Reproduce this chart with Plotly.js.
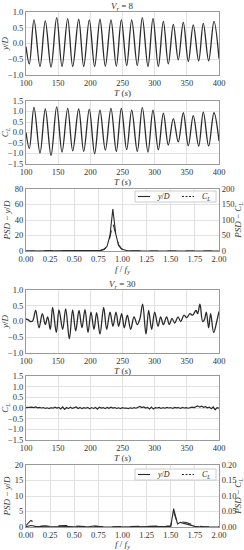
<!DOCTYPE html>
<html><head><meta charset="utf-8">
<script src="https://cdn.plot.ly/plotly-3.0.1.min.js"></script>
<style>html,body{margin:0;padding:0;background:#fff}#c{width:244px;height:550px}</style>
</head><body><div id="c"></div>
<script>
// ---- Data ----
// Vr = 8, y/D (extrema)
const t8_y = [100,105.2,112.4,121.8,130.0,138.9,147.7,156.0,164.8,172.6,181.9,189.7,198.4,206.7,215.0,223.3,232.1,240.4,248.2,256.5,264.3,273.0,280.8,289.6,297.4,305.7,313.5,321.2,329.0,336.7,344.5,352.3,360.0,368.4,375.6,383.9,392.2,400];
const yD8 = [-0.1,-0.65,0.75,-0.73,0.72,-0.75,0.82,-0.73,0.79,-0.73,0.77,-0.73,0.75,-0.73,0.77,-0.72,0.75,-0.72,0.75,-0.7,0.75,-0.7,0.82,-0.73,0.8,-0.73,0.7,-0.65,0.61,-0.52,0.67,-0.57,0.59,-0.55,0.64,-0.55,0.7,-0.48];
// Vr = 8, C_L (extrema)
const t8_c = [100,105.2,112.4,121.8,130.0,138.9,147.7,156.0,164.8,172.6,181.9,189.7,198.4,206.7,215.0,223.3,232.1,240.4,248.2,256.5,264.3,273.0,280.8,289.6,297.4,305.7,313.5,321.2,329.0,336.7,344.5,352.3,360.0,368.4,375.6,383.9,392.2,400];
const cl8 = [0.0,-0.76,1.2,-0.98,1.12,-1.09,1.22,-0.93,1.15,-0.87,1.12,-0.9,1.1,-1.01,1.07,-0.84,1.15,-0.9,1.15,-0.82,1.07,-0.9,1.18,-0.93,1.07,-0.82,0.92,-0.6,0.66,-0.45,0.94,-0.63,0.8,-0.65,0.97,-0.64,0.94,-0.4];
// Vr = 8, PSD
const f8 = [0,0.1,0.2,0.3,0.4,0.5,0.6,0.7,0.75,0.78,0.81,0.84,0.87,0.9,0.93,0.96,0.99,1.02,1.05,1.1,1.2,1.3,1.4,1.5,1.6,1.7,1.8,1.9,2.0];
const psdY8 = [0,0,0,0,0,0,0,0.05,0.2,0.8,2,6,20,54,22,7,2.5,1,0.4,0.1,0,0,0,0,0,0,0,0,0];
const psdC8 = [0,0,0,0,0,0,0,0.2,1,3,6,15,45,90,50,20,7,3,1,0.3,0,0,0,0,0,0,0,0,0];
// Vr = 30, y/D
const t30_y = [100,103.6,107.3,110.4,115.0,120.2,125.4,130.0,133.7,137.8,141.4,147.1,151.3,157.0,161.7,167.4,172.5,177.2,182.4,187.0,191.7,196.4,201.0,205.7,209.8,215.0,220.7,225.4,230.6,235.2,239.9,244.0,248.7,252.8,257.5,262.7,267.9,273.0,277.2,281.3,286.5,290.7,295.3,300.0,305.2,309.3,313.5,318.6,322.8,326.9,331.1,336.3,340.4,345.6,349.7,354.9,359.0,364.2,366.8,370.4,374.6,377.2,380.3,383.9,387.0,391.7,396.5,400];
const yD30 = [0.08,0.05,0.0,0.02,0.35,-0.2,0.25,-0.1,0.15,-0.25,0.45,-0.35,0.37,-0.25,0.4,-0.55,0.37,-0.3,0.35,-0.2,0.38,-0.35,0.3,-0.25,0.28,-0.4,0.45,-0.25,0.3,-0.15,0.3,-0.15,0.25,-0.2,0.2,-0.25,0.15,-0.1,0.1,0.55,-0.4,0.35,-0.25,0.3,-0.15,0.15,-0.1,0.15,-0.1,0.1,-0.05,0.15,0.0,0.2,0.12,0.25,0.2,0.35,0.25,0.55,0.0,0.05,0.3,-0.2,0.25,-0.35,0.0,0.32];
// Vr = 30, C_L
const t30_c = [100,103,106,109,112,115,118,121,124,127,130,133,136,139,142,145,148,151,154,157,160,163,166,169,172,175,178,181,184,187,190,193,196,199,202,205,208,211,214,217,220,223,226,229,232,235,238,241,244,247,250,253,256,259,262,265,268,271,274,277,280,283,286,289,292,295,298,301,304,307,310,313,316,319,322,325,328,331,334,337,340,343,346,349,352,355,358,361,364,367,370,373,376,379,382,385,388,391,394,397,400];
const cl30 = [0.02,0.03,0.01,0.04,0.02,0.05,0.01,0.03,0.0,0.02,-0.02,0.01,-0.03,0.02,-0.01,0.04,0.0,0.03,-0.04,0.05,-0.06,0.02,-0.03,0.04,-0.02,0.01,0.05,-0.02,0.03,-0.03,0.02,-0.01,0.03,-0.04,0.02,-0.02,0.03,-0.05,0.04,0.0,0.02,-0.03,0.03,-0.01,0.04,0.0,0.02,-0.02,0.01,-0.03,0.02,-0.01,0.0,-0.03,0.01,-0.02,0.02,-0.01,0.03,0.07,0.02,0.05,0.0,0.03,-0.04,0.04,-0.05,0.02,0.0,0.03,-0.02,0.02,-0.01,0.03,0.0,0.02,-0.02,0.03,0.01,0.02,-0.02,0.03,0.0,0.02,-0.01,0.03,0.04,0.02,0.06,0.1,0.04,0.08,0.03,0.06,0.01,0.04,-0.03,0.05,-0.08,0.02,-0.01];
// Vr = 30, PSD
const f30 = [0,0.05,0.1,0.15,0.2,0.25,0.3,0.35,0.4,0.45,0.5,0.55,0.6,0.65,0.7,0.75,0.8,0.9,1.0,1.1,1.2,1.3,1.4,1.45,1.5,1.53,1.57,1.6,1.63,1.67,1.7,1.75,1.8,1.85,1.9,1.95,2.0];
const psdY30 = [0.1,0.5,0.2,0.05,0.1,0.05,0.1,0.2,0.2,0.15,0.1,0.05,0.05,0.05,0.3,0.1,0.02,0.02,0.02,0.02,0.02,0.02,0.05,0.1,0.2,5.9,1.0,1.5,1.2,0.8,0.5,0.2,0.05,0.05,0.1,0.05,0];
const psdC30 = [0.005,0.021,0.012,0.003,0.004,0.002,0.003,0.005,0.005,0.004,0.003,0.002,0.001,0.001,0.003,0.001,0.001,0.001,0.001,0.001,0.001,0.001,0.002,0.003,0.004,0.048,0.012,0.018,0.016,0.014,0.01,0.005,0.002,0.001,0.002,0.001,0];

const tTicks = [100,150,200,250,300,350,400];
const fTicks = [0,0.25,0.5,0.75,1.0,1.25,1.5,1.75,2.0];
const seriesNames = ['<i>y</i>/<i>D</i>', '<i>C</i><sub><i>L</i></sub>'];

// ---- Styling ----
const FF = 'Liberation Serif, Times New Roman, serif';
const W = 244, H = 550;
const fs = 8.5;
const dark = '#2a2a2a';
const xdom = [26/W, 219/W];
function ydom(top, bot){ return [1 - bot/H, 1 - top/H]; }
function ax(extra){
  return Object.assign({
    showline:true, mirror:true, linecolor:'#9a9a9a', linewidth:1,
    showgrid:true, gridcolor:'#e2e2e2', gridwidth:1, zeroline:false,
    ticks:'', tickfont:{family:FF, size:fs, color:'#333'}, automargin:false, fixedrange:true
  }, extra);
}
function ttl(text, sd){ return {text:text, font:{family:FF, size:9, color:'#333'}, standoff: sd}; }

const Tt = '<i>T</i> (<i>s</i>)';
const Ft = '<i>f</i> / <i>f</i><sub><i>y</i></sub>';
const yDt = seriesNames[0];
const CLt = seriesNames[1];

const traces = [
  {x:t8_y, y:yD8, xaxis:'x', yaxis:'y', mode:'lines', line:{color:dark, width:1.3, shape:'spline', smoothing:1}},
  {x:t8_c, y:cl8, xaxis:'x2', yaxis:'y2', mode:'lines', line:{color:dark, width:1.3, shape:'spline', smoothing:1}},
  {x:f8, y:psdY8, xaxis:'x3', yaxis:'y3', mode:'lines', name:yDt, line:{color:dark, width:1.1}},
  {x:f8, y:psdC8, xaxis:'x3', yaxis:'y7', mode:'lines', name:CLt, line:{color:dark, width:1.1, dash:'dash'}},
  {x:t30_y, y:yD30, xaxis:'x4', yaxis:'y4', mode:'lines', line:{color:dark, width:1.3, shape:'spline', smoothing:1}},
  {x:t30_c, y:cl30, xaxis:'x5', yaxis:'y5', mode:'lines', line:{color:dark, width:1.2}},
  {x:f30, y:psdY30, xaxis:'x6', yaxis:'y6', mode:'lines', name:yDt, line:{color:dark, width:1.1}},
  {x:f30, y:psdC30, xaxis:'x6', yaxis:'y8', mode:'lines', name:CLt, line:{color:dark, width:1.1, dash:'dash'}}
];

// compact legend boxes (matplotlib-style), drawn with shapes + annotations
const shapes = [], annotations = [];
function addLegend(top){
  const bot = top + 11, mid = top + 5.5;
  shapes.push({type:'rect', xref:'paper', yref:'paper', x0:135/W, x1:216/W, y0:1-bot/H, y1:1-top/H,
    line:{color:'#cccccc', width:1}, fillcolor:'rgba(255,255,255,0.9)', layer:'above'});
  shapes.push({type:'line', xref:'paper', yref:'paper', x0:138/W, x1:150/W, y0:1-mid/H, y1:1-mid/H,
    line:{color:dark, width:1.1}, layer:'above'});
  shapes.push({type:'line', xref:'paper', yref:'paper', x0:182/W, x1:194/W, y0:1-mid/H, y1:1-mid/H,
    line:{color:dark, width:1.1, dash:'2px,1.5px'}, layer:'above'});
  annotations.push({text:seriesNames[0], xref:'paper', yref:'paper', x:155/W, y:1-mid/H, xanchor:'left', yanchor:'middle',
    showarrow:false, font:{family:FF, size:8, color:'#222'}});
  annotations.push({text:seriesNames[1], xref:'paper', yref:'paper', x:200/W, y:1-mid/H, xanchor:'left', yanchor:'middle',
    showarrow:false, font:{family:FF, size:8, color:'#222'}});
}
addLegend(191);
addLegend(469);
annotations.push({text:'<i>V</i><sub><i>r</i></sub> = 8', xref:'paper', yref:'paper', x:122.5/W, y:1-6.5/H, xanchor:'center', yanchor:'middle', showarrow:false, font:{family:FF, size:9, color:'#333'}});
annotations.push({text:'<i>V</i><sub><i>r</i></sub> = 30', xref:'paper', yref:'paper', x:122.5/W, y:1-284/H, xanchor:'center', yanchor:'middle', showarrow:false, font:{family:FF, size:9, color:'#333'}});

const layout = {
  width:W, height:H, margin:{l:0, r:0, t:0, b:0}, paper_bgcolor:'#fff', plot_bgcolor:'#fff',
  showlegend:false,
  xaxis: ax({domain:xdom, anchor:'y', range:[100,400], tickvals:tTicks, title:ttl(Tt, 1)}),
  yaxis: ax({domain:ydom(12,75), anchor:'x', range:[-1,1], dtick:0.5, tickformat:'.1f', title:ttl(yDt, 2)}),
  xaxis2: ax({domain:xdom, anchor:'y2', range:[100,400], tickvals:tTicks, title:ttl(Tt, 1)}),
  yaxis2: ax({domain:ydom(101,164), anchor:'x2', range:[-1.5,1.5], dtick:0.5, tickformat:'.1f', title:ttl(CLt, 2)}),
  xaxis3: ax({domain:xdom, anchor:'y3', range:[0,2], tickvals:fTicks, tickformat:'.2f', title:ttl(Ft, 1)}),
  yaxis3: ax({domain:ydom(189,251), anchor:'x3', range:[0,80], dtick:20, title:ttl('<i>PSD</i> − '+yDt, 2)}),
  yaxis7: ax({overlaying:'y3', side:'right', anchor:'x3', range:[0,200], dtick:50, showgrid:false, title:ttl('<i>PSD</i> − '+CLt, 2)}),
  xaxis4: ax({domain:xdom, anchor:'y4', range:[100,400], tickvals:tTicks, title:ttl(Tt, 1)}),
  yaxis4: ax({domain:ydom(290,353), anchor:'x4', range:[-1,1], dtick:0.5, tickformat:'.1f', title:ttl(yDt, 2)}),
  xaxis5: ax({domain:xdom, anchor:'y5', range:[100,400], tickvals:tTicks, title:ttl(Tt, 1)}),
  yaxis5: ax({domain:ydom(376,440), anchor:'x5', range:[-1.5,1.5], dtick:0.5, tickformat:'.1f', title:ttl(CLt, 2)}),
  xaxis6: ax({domain:xdom, anchor:'y6', range:[0,2], tickvals:fTicks, tickformat:'.2f', title:ttl(Ft, 1)}),
  yaxis6: ax({domain:ydom(465,527), anchor:'x6', range:[0,20], dtick:5, title:ttl('<i>PSD</i> − '+yDt, 2)}),
  yaxis8: ax({overlaying:'y6', side:'right', anchor:'x6', range:[0,0.2], dtick:0.05, tickformat:'.2f', showgrid:false, title:ttl('<i>PSD</i> − '+CLt, 2)}),
  shapes: shapes,
  annotations: annotations
};

Plotly.newPlot('c', traces, layout, {staticPlot:true, displayModeBar:false});
</script>
</body></html>
